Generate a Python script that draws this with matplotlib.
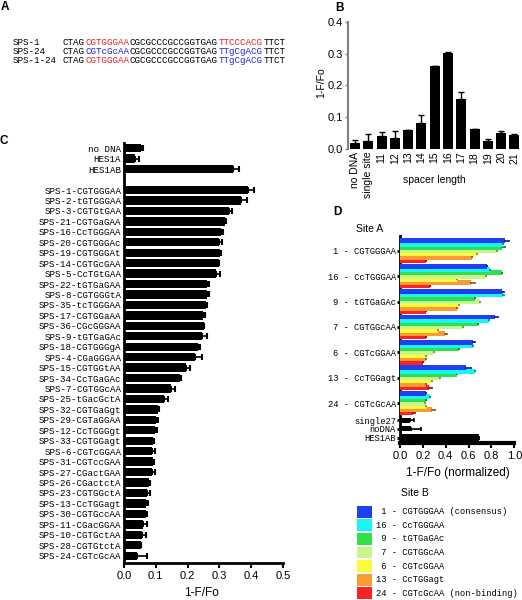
import numpy as np
import matplotlib
matplotlib.use('Agg')
import matplotlib.pyplot as plt
from matplotlib.patches import Rectangle
from matplotlib.colors import to_rgb

SANS = ['Liberation Sans Narrow', 'Liberation Sans', 'DejaVu Sans']
MONO = ['Liberation Mono', 'DejaVu Sans Mono']
plt.rcParams['font.family'] = SANS

W, H = 522, 600

# ---- panel A: oligo sequences
seq_names = ['SPS-1', 'SPS-24', 'SPS-1-24']
flank_5 = 'CTAG'
site_a_seq = ['CGTGGGAA', 'CGTcGcAA', 'CGTGGGAA']
spacer_seq = 'CGCGCCCGCCGGTGAG'
site_b_seq = ['TTCCCACG', 'TTgCgACG', 'TTgCgACG']
flank_3 = 'TTCT'

# ---- panel B: spacer length
spacer_labels = ['no DNA', 'single site', '11', '12', '13', '14', '15',
                 '16', '17', '18', '19', '20', '21']
spacer_vals = [0.018, 0.024, 0.041, 0.035, 0.059, 0.083, 0.260,
               0.303, 0.157, 0.063, 0.024, 0.049, 0.045]
spacer_err = [0.010, 0.022, 0.011, 0.023, 0.001, 0.024, 0.002,
              0.002, 0.023, 0.001, 0.006, 0.009, 0.002]

# ---- panel C: single-site variants
ctrl_labels = ['no DNA', 'HES1A', 'HES1AB']
ctrl_vals = [0.052, 0.035, 0.342]
ctrl_err = [0.008, 0.013, 0.020]
sps_labels = ['SPS-1-CGTGGGAA', 'SPS-2-tGTGGGAA', 'SPS-3-CGTGtGAA',
              'SPS-21-CGTGaGAA', 'SPS-16-CcTGGGAA', 'SPS-20-CGTGGGAc',
              'SPS-19-CGTGGGAt', 'SPS-14-CGTGcGAA', 'SPS-5-CcTGtGAA',
              'SPS-22-tGTGaGAA', 'SPS-8-CGTGGGtA', 'SPS-35-tcTGGGAA',
              'SPS-17-CGTGGaAA', 'SPS-36-CGcGGGAA', 'SPS-9-tGTGaGAc',
              'SPS-18-CGTGGGgA', 'SPS-4-CGaGGGAA', 'SPS-15-CGTGGtAA',
              'SPS-34-CcTGaGAc', 'SPS-7-CGTGGcAA', 'SPS-25-tGacGctA',
              'SPS-32-CGTGaGgt', 'SPS-29-CGTaGGAA', 'SPS-12-CcTGGGgt',
              'SPS-33-CGTGGagt', 'SPS-6-CGTcGGAA', 'SPS-31-CGTccGAA',
              'SPS-27-CGactGAA', 'SPS-26-CGactctA', 'SPS-23-CGTGGctA',
              'SPS-13-CcTGGagt', 'SPS-30-CGTGccAA', 'SPS-11-CGacGGAA',
              'SPS-10-CGTGctAA', 'SPS-28-CGTGtctA', 'SPS-24-CGTcGcAA']
sps_vals = [0.389, 0.368, 0.331, 0.319, 0.305, 0.300, 0.303, 0.298, 0.289,
            0.261, 0.261, 0.258, 0.248, 0.250, 0.245, 0.234, 0.222, 0.196,
            0.177, 0.147, 0.127, 0.108, 0.100, 0.096, 0.092, 0.089, 0.090,
            0.087, 0.079, 0.072, 0.069, 0.068, 0.061, 0.056, 0.054, 0.040]
sps_err = [0.019, 0.018, 0.009, 0.003, 0.007, 0.009, 0.002, 0.002, 0.013,
           0.007, 0.007, 0.003, 0.008, 0.002, 0.017, 0.006, 0.022, 0.012,
           0.002, 0.013, 0.010, 0.002, 0.006, 0.007, 0.002, 0.008, 0.003,
           0.009, 0.002, 0.009, 0.006, 0.003, 0.010, 0.012, 0.001, 0.032]

# ---- panel D: site A x site B combinations
site_a_labels = ['1 - CGTGGGAA', '16 - CcTGGGAA', '9 - tGTGaGAc', '7 - CGTGGcAA',
                 '6 - CGTcGGAA', '13 - CcTGGagt', '24 - CGTcGcAA']
site_b_labels = [' 1 - CGTGGGAA (consensus)', '16 - CcTGGGAA', ' 9 - tGTGaGAc',
                 ' 7 - CGTGGcAA', ' 6 - CGTcGGAA', '13 - CcTGGagt',
                 '24 - CGTcGcAA (non-binding)']
# one list per site B, values along site A
siteB_1 = [0.92, 0.76, 0.89, 0.83, 0.64, 0.58, 0.23]
siteB_16 = [0.90, 0.79, 0.90, 0.78, 0.64, 0.66, 0.26]
siteB_9 = [0.89, 0.89, 0.66, 0.68, 0.52, 0.50, 0.23]
siteB_7 = [0.85, 0.75, 0.70, 0.55, 0.30, 0.35, 0.22]
siteB_6 = [0.67, 0.50, 0.52, 0.33, 0.23, 0.28, 0.23]
siteB_13 = [0.63, 0.62, 0.50, 0.39, 0.23, 0.23, 0.28]
siteB_24 = [0.23, 0.26, 0.23, 0.23, 0.20, 0.25, 0.11]
siteB_vals = [siteB_1, siteB_16, siteB_9, siteB_7, siteB_6, siteB_13, siteB_24]
siteB_1_err = [0.03, 0.0, 0.02, 0.03, 0.02, 0.04, 0.0]
siteB_16_err = [0.0, 0.0, 0.01, 0.0, 0.0, 0.0, 0.0]
siteB_9_err = [0.03, 0.0, 0.0, 0.0, 0.0, 0.0, 0.0]
siteB_7_err = [0.0, 0.0, 0.0, 0.0, 0.0, 0.0, 0.0]
siteB_6_err = [0.0, 0.0, 0.0, 0.0, 0.0, 0.0, 0.0]
siteB_13_err = [0.0, 0.04, 0.0, 0.02, 0.0, 0.0, 0.03]
siteB_24_err = [0.0, 0.0, 0.0, 0.0, 0.0, 0.03, 0.02]
siteB_err = [siteB_1_err, siteB_16_err, siteB_9_err, siteB_7_err,
             siteB_6_err, siteB_13_err, siteB_24_err]
extra_labels = ['single27', 'noDNA', 'HES1AB']
extra_vals = [0.09, 0.10, 0.69]
extra_err = [0.03, 0.08, 0.0]

RED = '#e8202a'
BLUE = '#2525e0'
b_colors = ['#1f3ff0', '#19f5f5', '#2ee04a', '#ccf48c', '#fbfb3c', '#fb9a32', '#fb2222']

fig = plt.figure(figsize=(W / 100, H / 100), dpi=100)


def fx(px):
    return px / W


def fy(py):
    return 1 - py / H


# panel letters
for letter, (px, py) in zip('ABCD', [(5, 7), (340, 8), (4, 141), (337, 212)]):
    fig.text(fx(px), fy(py), letter, fontsize=8.5, fontweight='bold',
             family=['Liberation Sans', 'DejaVu Sans'], ha='center', va='center')

# ---- A
fs_a = 6.7
cw = 0.6 * fs_a * 100 / 72
a_col = [RED, BLUE, RED]
b_col = [RED, BLUE, BLUE]
for i, name in enumerate(seq_names):
    yy = fy(42.7 + 9 * i)
    fig.text(fx(12.7), yy, name, family=MONO, fontsize=fs_a, va='center')
    segs = [(flank_5, 'black'), (site_a_seq[i], a_col[i]), (spacer_seq, 'black'),
            (site_b_seq[i], b_col[i]), (flank_3, 'black')]
    x0 = 62.7
    for s, c in segs:
        fig.text(fx(x0), yy, s, family=MONO, fontsize=fs_a, color=c, va='center')
        x0 += cw * len(s)

# ---- B
axB = fig.add_axes([fx(348), fy(149), fx(521) - fx(348), fy(21.7) - fy(149)])
xb = np.arange(len(spacer_labels))
axB.bar(xb, spacer_vals, width=0.75, color='black')
axB.errorbar(xb, spacer_vals, yerr=[np.zeros(len(xb)), spacer_err], fmt='none',
             ecolor='black', capsize=2.5, elinewidth=1, capthick=1)
axB.set_xlim(-0.53, 12.5)
axB.set_ylim(0, 0.4)
for s in ['top', 'right', 'bottom']:
    axB.spines[s].set_visible(False)
axB.spines['left'].set_color('#808080')
axB.spines['left'].set_linewidth(1.5)
axB.set_xticks(xb)
axB.set_xticklabels(spacer_labels, rotation=90, fontsize=7.5)
axB.tick_params(axis='x', length=0, pad=2)
axB.set_yticks([0, 0.1, 0.2, 0.3, 0.4])
axB.set_yticklabels(['0.0', '0.1', '0.2', '0.3', '0.4'], fontsize=8)
axB.tick_params(axis='y', length=2.5, width=1, color='#808080', pad=1)
fig.text(fx(434.5), fy(180), 'spacer length', fontsize=7.5, ha='center', va='center')
fig.text(fx(321), fy(83), '1-F/Fo', fontsize=7.5, rotation=90, ha='center', va='center')

# ---- C
axC = fig.add_axes([fx(124), fy(563), fx(283) - fx(124), fy(143) - fy(563)])
pos_c = list(range(3)) + list(range(4, 4 + len(sps_labels)))
vals_c = ctrl_vals + sps_vals
err_c = ctrl_err + sps_err
axC.barh(pos_c, vals_c, height=0.8, color='black')
axC.errorbar(vals_c, pos_c, xerr=[np.zeros(len(pos_c)), err_c], fmt='none',
             ecolor='black', capsize=2.2, elinewidth=1.2, capthick=1.5)
axC.set_ylim(39.7, -0.5)
axC.set_xlim(0, 0.5)
for s in ['top', 'right']:
    axC.spines[s].set_visible(False)
axC.spines['left'].set_linewidth(2)
axC.spines['bottom'].set_linewidth(2)
axC.set_yticks(pos_c)
axC.set_yticklabels(ctrl_labels + sps_labels, family=MONO, fontsize=6.6)
axC.tick_params(axis='y', length=0, pad=2)
axC.set_xticks([0, 0.1, 0.2, 0.3, 0.4, 0.5])
axC.set_xticklabels(['0.0', '0.1', '0.2', '0.3', '0.4', '0.5'], fontsize=8)
axC.tick_params(axis='x', length=3.5, width=1.5, pad=2)
fig.text(fx(201), fy(593), '1-F/Fo', fontsize=8.5, ha='center', va='center')

# ---- D
axD = fig.add_axes([fx(400), fy(443), fx(514.3) - fx(400), fy(236) - fy(443)])
groups = np.arange(len(site_a_labels))
step = 0.13
for j, vals in enumerate(siteB_vals):
    yy = groups + (j - 3) * step
    axD.barh(yy, vals, height=0.19, color=b_colors[j], zorder=10 - j, linewidth=0)
    dark = tuple(c * 0.6 for c in to_rgb(b_colors[j]))
    axD.errorbar(vals, yy, xerr=[np.zeros(len(vals)), siteB_err[j]], fmt='none',
                 ecolor=dark, capsize=1.0, elinewidth=1.2, capthick=1.2, zorder=10 - j)
extra_pos = [6.67, 7.01, 7.36]
axD.barh(extra_pos, extra_vals, height=[0.2, 0.2, 0.26], color='black', zorder=3)
axD.errorbar(extra_vals, extra_pos, xerr=[np.zeros(3), extra_err], fmt='none',
             ecolor='black', capsize=1.5, elinewidth=1.2, capthick=1.2, zorder=3)
axD.set_ylim(7.57, -0.58)
axD.set_xlim(0, 1)
for s in ['top', 'right']:
    axD.spines[s].set_visible(False)
axD.spines['left'].set_linewidth(2)
axD.spines['bottom'].set_linewidth(3)
axD.set_yticks(list(groups) + extra_pos)
axD.set_yticklabels(site_a_labels + extra_labels, family=MONO, fontsize=6.3)
axD.tick_params(axis='y', length=2.5, width=2, pad=0.5)
axD.set_xticks([0, 0.2, 0.4, 0.6, 0.8, 1.0])
axD.set_xticklabels(['0.0', '0.2', '0.4', '0.6', '0.8', '1.0'], fontsize=8)
axD.tick_params(axis='x', length=3.5, width=1.5, pad=2)
fig.text(fx(457.5), fy(473), '1-F/Fo (normalized)', fontsize=8.5, ha='center', va='center')
fig.text(fx(356), fy(229), 'Site A', fontsize=7.5, ha='left', va='center')

# legend for site B
fig.text(fx(401), fy(493), 'Site B', fontsize=7.5, ha='left', va='center')
for j, lab in enumerate(site_b_labels):
    yc = 511.7 + 13.6 * j
    fig.add_artist(Rectangle((fx(356.7), fy(yc + 5.8)), fx(15.6), 11.6 / H,
                             transform=fig.transFigure, color=b_colors[j], lw=0))
    fig.text(fx(376.5), fy(yc), lab, family=MONO, fontsize=6.3, va='center')

fig.savefig('out.png', dpi=100)
